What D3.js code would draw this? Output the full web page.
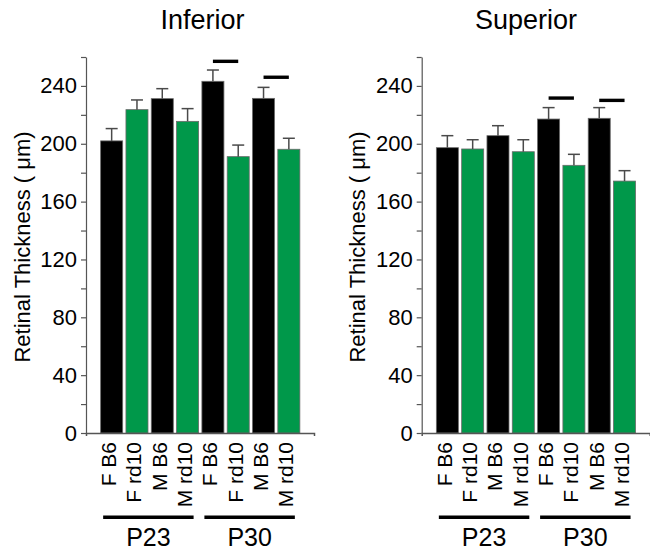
<!DOCTYPE html>
<html>
<head>
<meta charset="utf-8">
<script src="https://cdn.jsdelivr.net/npm/d3@7"></script>
<style>
  body { margin: 0; background: #fff; }
  svg { font-family: Arial, "Liberation Sans", sans-serif; }
</style>
</head>
<body>
<div id="chart"></div>
<script>
// bar labels, left to right (same order in both panels)
const categories = ['F B6', 'F rd10', 'M B6', 'M rd10', 'F B6', 'F rd10', 'M B6', 'M rd10'];
const genotypes = ['B6', 'rd10', 'B6', 'rd10', 'B6', 'rd10', 'B6', 'rd10'];
const ageGroups = ['P23', 'P30'];
const ageOfBar = ['P23', 'P23', 'P23', 'P23', 'P30', 'P30', 'P30', 'P30'];

// mean retinal thickness (um) and error (SEM)
const inferiorMean = [202, 223.6, 231.2, 215.5, 243.2, 191.1, 231.4, 196.2];
const inferiorErr = [8.5, 6.7, 6.9, 8.8, 7.8, 8.0, 7.6, 7.6];
const superiorMean = [197.3, 196.4, 205.6, 194.5, 217.1, 185.1, 217.6, 174.2];
const superiorErr = [8.3, 6.4, 6.9, 8.3, 7.9, 7.6, 7.4, 7.2];

// significance bars: pairs of bar indexes and the level they sit at
const sigPairs = [[4, 5], [6, 7]];
const inferiorSigLevel = [257, 246];
const superiorSigLevel = [231.6, 230];

const majorTicks = [0, 40, 80, 120, 160, 200, 240];
const minorTicks = [20, 60, 100, 140, 180, 220, 260];

const colors = {B6: '#000000', rd10: '#00984a'};

const W = 650, H = 551;
const svg = d3.select('#chart').append('svg')
    .attr('width', W)
    .attr('height', H);

const y = d3.scaleLinear()
    .domain([0, 260])
    .range([433, 57]);

function drawPanel(opts) {
    const g = svg.append('g');
    const ax = opts.axisX;
    const axisLen = 228;

    const x = d3.scaleBand()
        .domain(d3.range(categories.length))
        .range([ax + 13, ax + 215.5])
        .paddingInner(0.13)
        .paddingOuter(0.065);

    // title
    g.append('text')
        .attr('x', opts.titleX)
        .attr('y', 29)
        .attr('text-anchor', 'middle')
        .attr('font-size', 27)
        .text(opts.title);

    // bars
    g.selectAll('rect.bar')
        .data(opts.mean)
        .enter()
        .append('rect')
        .attr('class', 'bar')
        .attr('x', (d, i) => x(i))
        .attr('y', d => y(d))
        .attr('width', x.bandwidth())
        .attr('height', d => y(0) - y(d))
        .attr('fill', (d, i) => colors[genotypes[i]])
        .attr('stroke', '#6a6a6a')
        .attr('stroke-width', 0.8);

    // error bars
    const eb = g.selectAll('g.err')
        .data(opts.mean)
        .enter()
        .append('g')
        .attr('class', 'err')
        .attr('stroke', '#4a4a4a')
        .attr('stroke-width', 1.5);

    eb.append('line')
        .attr('x1', (d, i) => x(i) + x.bandwidth() / 2)
        .attr('x2', (d, i) => x(i) + x.bandwidth() / 2)
        .attr('y1', d => y(d))
        .attr('y2', (d, i) => y(d + opts.err[i]));

    eb.append('line')
        .attr('x1', (d, i) => x(i) + x.bandwidth() / 2 - 6)
        .attr('x2', (d, i) => x(i) + x.bandwidth() / 2 + 6)
        .attr('y1', (d, i) => y(d + opts.err[i]))
        .attr('y2', (d, i) => y(d + opts.err[i]));

    // significance bars
    g.selectAll('line.sig')
        .data(sigPairs)
        .enter()
        .append('line')
        .attr('class', 'sig')
        .attr('x1', d => x(d[0]) + x.bandwidth() / 2)
        .attr('x2', d => x(d[1]) + x.bandwidth() / 2)
        .attr('y1', (d, i) => y(opts.sigLevel[i]))
        .attr('y2', (d, i) => y(opts.sigLevel[i]))
        .attr('stroke', '#000')
        .attr('stroke-width', 3.4);

    // y axis, major + minor ticks
    const yAxis = g.append('g')
        .attr('transform', `translate(${ax},0)`)
        .call(d3.axisLeft(y).tickValues(majorTicks).tickSize(5).tickSizeOuter(0).tickPadding(4));
    yAxis.selectAll('text')
        .attr('font-size', 22)
        .attr('fill', '#000')
        .attr('font-family', 'Arial, "Liberation Sans", sans-serif');

    const yMinor = g.append('g')
        .attr('transform', `translate(${ax},0)`)
        .call(d3.axisLeft(y).tickValues(minorTicks).tickSize(5).tickFormat(''));
    yMinor.select('.domain').remove();

    g.selectAll('.domain, .tick line').attr('stroke', '#555').attr('stroke-width', 1.2);

    // y label
    g.append('text')
        .attr('transform', `translate(${ax - 64},247) rotate(-90)`)
        .attr('text-anchor', 'middle')
        .attr('dy', '0.35em')
        .attr('font-size', 22)
        .text('Retinal Thickness ( \u03bcm)');

    // x baseline with a small tick at the right end
    const xLine = d3.scaleLinear().domain([0, 1]).range([ax, ax + axisLen]);
    const xAxis = g.append('g')
        .attr('transform', `translate(0,${y(0)})`)
        .call(d3.axisBottom(xLine).tickValues([]).tickSizeOuter(3));
    xAxis.select('.domain')
        .attr('stroke', '#555')
        .attr('stroke-width', 1.5);

    // category labels, rotated
    g.selectAll('text.cat')
        .data(categories)
        .enter()
        .append('text')
        .attr('class', 'cat')
        .attr('transform', (d, i) => `translate(${x(i) + x.bandwidth() / 2 - 3},${y(0) + 9}) rotate(-90)`)
        .attr('text-anchor', 'end')
        .attr('dy', '0.35em')
        .attr('font-size', 21)
        .text(d => d);

    // age group lines + labels
    ageGroups.forEach(age => {
        const idx = d3.range(categories.length).filter(i => ageOfBar[i] === age);
        const x0 = x(idx[0]) + 2.5;
        const x1 = x(idx[idx.length - 1]) + x.bandwidth() - 5;
        g.append('line')
            .attr('x1', x0)
            .attr('x2', x1)
            .attr('y1', 517.3)
            .attr('y2', 517.3)
            .attr('stroke', '#000')
            .attr('stroke-width', 3.6);
        g.append('text')
            .attr('x', (x0 + x1) / 2)
            .attr('y', 546)
            .attr('text-anchor', 'middle')
            .attr('font-size', 25)
            .text(age);
    });
}

drawPanel({
    title: 'Inferior',
    titleX: 202.5,
    axisX: 86,
    mean: inferiorMean,
    err: inferiorErr,
    sigLevel: inferiorSigLevel
});

drawPanel({
    title: 'Superior',
    titleX: 526,
    axisX: 421.7,
    mean: superiorMean,
    err: superiorErr,
    sigLevel: superiorSigLevel
});
</script>
</body>
</html>
